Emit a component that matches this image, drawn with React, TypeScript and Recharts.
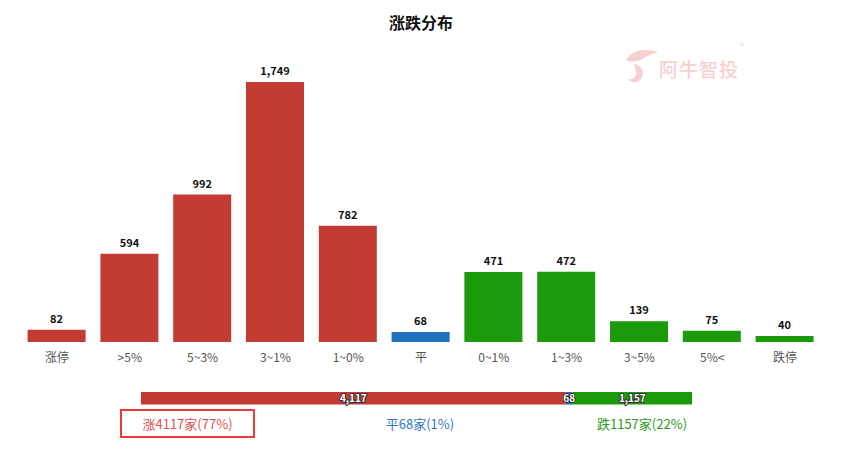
import React from "react";
import { Bar, BarChart, Cell, LabelList, XAxis, YAxis } from "recharts";

const categories = ["涨停", ">5%", "5~3%", "3~1%", "1~0%", "平", "0~1%", "1~3%", "3~5%", "5%<", "跌停"];
const counts = [82, 594, 992, 1749, 782, 68, 471, 472, 139, 75, 40];
const directions = ["up", "up", "up", "up", "up", "flat", "down", "down", "down", "down", "down"];

const upTotal = [4117];
const flatTotal = [68];
const downTotal = [1157];
const summaryLabels = ["涨4117家(77%)", "平68家(1%)", "跌1157家(22%)"];

const RED = "#c23c33";
const BLUE = "#1f71bd";
const GREEN = "#1b9a0b";

const colorOf = (d: string) => (d === "up" ? RED : d === "flat" ? BLUE : GREEN);

const barData = categories.map((name, i) => ({ name, value: counts[i], dir: directions[i] }));
const stackData = [{ name: "total", up: upTotal[0], flat: flatTotal[0], down: downTotal[0] }];
const grandTotal = upTotal[0] + flatTotal[0] + downTotal[0];

const font = "'Microsoft YaHei', 'Noto Sans CJK SC', sans-serif";
const fmt = (v: any) => Number(v).toLocaleString("en-US");

function Watermark() {
  return (
    <div style={{ position: "absolute", left: 622, top: 44, width: 130, height: 44, pointerEvents: "none" }}>
      <svg width={40} height={40} style={{ position: "absolute", left: 0, top: 2 }}>
        <path
          d="M4 14 C10 4, 22 2, 36 6 C28 8, 22 12, 18 14 C12 16, 8 16, 4 14 Z M12 18 C20 20, 24 26, 18 34 C14 38, 8 36, 6 33 C10 34, 14 32, 14 27 C14 23, 12 21, 12 18 Z"
          fill="#f7d0d0"
        />
      </svg>
      <div style={{ position: "absolute", left: 37, top: 11, fontFamily: font, fontSize: 19, fontWeight: 500, color: "#f7d0d0", letterSpacing: 1 }}>
        阿牛智投
      </div>
      <div style={{ position: "absolute", left: 118, top: -4, fontFamily: font, fontSize: 8, color: "#f7d0d0" }}>®</div>
    </div>
  );
}

export default function App() {
  return (
    <div style={{ position: "absolute", left: 0, top: 0, width: 853, height: 451, background: "#fff", fontFamily: font }}>
      <div style={{ position: "absolute", left: 0, top: 10, width: 842, textAlign: "center", fontSize: 16, fontWeight: 700, color: "#111" }}>
        涨跌分布
      </div>
      <Watermark />
      <div style={{ position: "absolute", left: 0, top: 0 }}>
        <BarChart width={853} height={370} data={barData} margin={{ top: 82, right: 31.6, bottom: 0, left: 20.6 }}>
          <XAxis
            dataKey="name"
            axisLine={false}
            tickLine={false}
            height={28}
            interval={0}
            dy={3}
            tick={{ fill: "#555", fontSize: 12, fontFamily: font }}
          />
          <YAxis hide domain={[0, 1749]} />
          <Bar dataKey="value" barSize={58} isAnimationActive={false}>
            {barData.map((d, i) => (
              <Cell key={i} fill={colorOf(d.dir)} />
            ))}
            <LabelList dataKey="value" position="top" offset={7} formatter={fmt} fill="#111" fontSize={11} fontWeight={700} fontFamily={font} />
          </Bar>
        </BarChart>
      </div>
      <div style={{ position: "absolute", left: 0, top: 384 }}>
        <BarChart width={853} height={28} data={stackData} layout="vertical" margin={{ top: 7, right: 161, bottom: 7, left: 141 }}>
          <XAxis type="number" hide domain={[0, grandTotal]} />
          <YAxis type="category" dataKey="name" hide />
          <Bar dataKey="up" stackId="s" fill={RED} barSize={14} isAnimationActive={false}>
            <LabelList dataKey="up" position="center" formatter={fmt} fill="#fff" stroke="#333" strokeWidth={2} paintOrder="stroke" fontSize={10} fontWeight={700} fontFamily={font} />
          </Bar>
          <Bar dataKey="flat" stackId="s" fill={BLUE} barSize={14} isAnimationActive={false}>
            <LabelList dataKey="flat" position="center" formatter={fmt} fill="#fff" stroke="#333" strokeWidth={2} paintOrder="stroke" fontSize={10} fontWeight={700} fontFamily={font} />
          </Bar>
          <Bar dataKey="down" stackId="s" fill={GREEN} barSize={14} isAnimationActive={false}>
            <LabelList dataKey="down" position="center" formatter={fmt} fill="#fff" stroke="#333" strokeWidth={2} paintOrder="stroke" fontSize={10} fontWeight={700} fontFamily={font} />
          </Bar>
        </BarChart>
      </div>
      <div style={{ position: "absolute", left: 120, top: 409, width: 131, height: 25, border: "2px solid #f0393b" }} />
      <div style={{ position: "absolute", left: 120, top: 414, width: 135, textAlign: "center", fontSize: 13, color: "#e0504f" }}>{summaryLabels[0]}</div>
      <div style={{ position: "absolute", left: 340, top: 414, width: 160, textAlign: "center", fontSize: 13, color: "#2f78c4" }}>{summaryLabels[1]}</div>
      <div style={{ position: "absolute", left: 562, top: 414, width: 160, textAlign: "center", fontSize: 13, color: "#2e9a14" }}>{summaryLabels[2]}</div>
    </div>
  );
}
